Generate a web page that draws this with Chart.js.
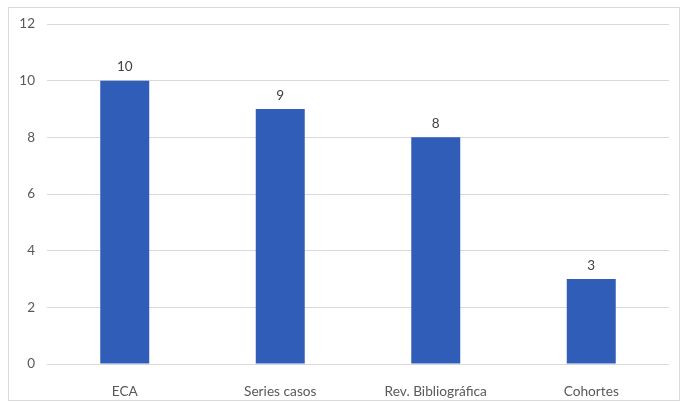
<!DOCTYPE html>
<html>
<head>
<meta charset="utf-8">
<script src="https://cdn.jsdelivr.net/npm/chart.js@4"></script>
<style>
  html, body { margin: 0; padding: 0; background: #fff; }
  #wrap { width: 682px; height: 402px; }
</style>
</head>
<body>
<div id="wrap"><canvas id="myChart" width="682" height="402"></canvas></div>
<script>
// datos del gráfico
const categorias = ["ECA", "Series casos", "Rev. Bibliográfica", "Cohortes"];
const valores = [10, 9, 8, 3];
const yMin = 0, yMax = 12, yPaso = 2;

const fuente = "Lato, 'Liberation Sans', sans-serif";

// marco exterior y etiquetas encima de las barras
const extras = {
    id: 'extras',
    beforeDraw(chart) {
        const ctx = chart.ctx;
        ctx.save();
        ctx.fillStyle = '#fff';
        ctx.fillRect(0, 0, chart.width, chart.height);
        ctx.strokeStyle = '#D9D9D9';
        ctx.lineWidth = 1;
        ctx.strokeRect(8.5, 7.5, 671, 393);
        ctx.restore();
    },
    afterDatasetsDraw(chart) {
        const ctx = chart.ctx;
        const meta = chart.getDatasetMeta(0);
        ctx.save();
        ctx.font = "13.5px " + fuente;
        ctx.fillStyle = '#404040';
        ctx.textAlign = 'center';
        ctx.textBaseline = 'bottom';
        meta.data.forEach((bar, i) => {
            ctx.fillText(valores[i], bar.x, bar.y - 7);
        });
        ctx.restore();
    }
};

var canvas = document.getElementById("myChart");
var myChart = new Chart(canvas, {
    type: 'bar',
    data: {
        labels: categorias,
        datasets: [{
            data: valores,
            backgroundColor: '#2F5DB8',
            categoryPercentage: 1,
            barPercentage: 0.315
        }]
    },
    options: {
        responsive: false,
        animation: false,
        layout: { padding: { left: 0, right: 13, top: 24, bottom: 0 } },
        plugins: { legend: { display: false }, tooltip: { enabled: false } },
        scales: {
            x: {
                grid: { display: false },
                border: { display: false },
                ticks: { color: '#595959', font: { family: fuente, size: 13.7 }, padding: 11, maxRotation: 0 },
                afterFit: (s) => { s.height = 38; }
            },
            y: {
                min: yMin, max: yMax,
                grid: { color: '#D9D9D9', drawTicks: false },
                border: { display: false },
                ticks: { stepSize: yPaso, color: '#595959', font: { family: fuente, size: 13.5 }, padding: 12 },
                afterFit: (s) => { s.width = 47; }
            }
        }
    },
    plugins: [extras]
});
</script>
</body>
</html>
